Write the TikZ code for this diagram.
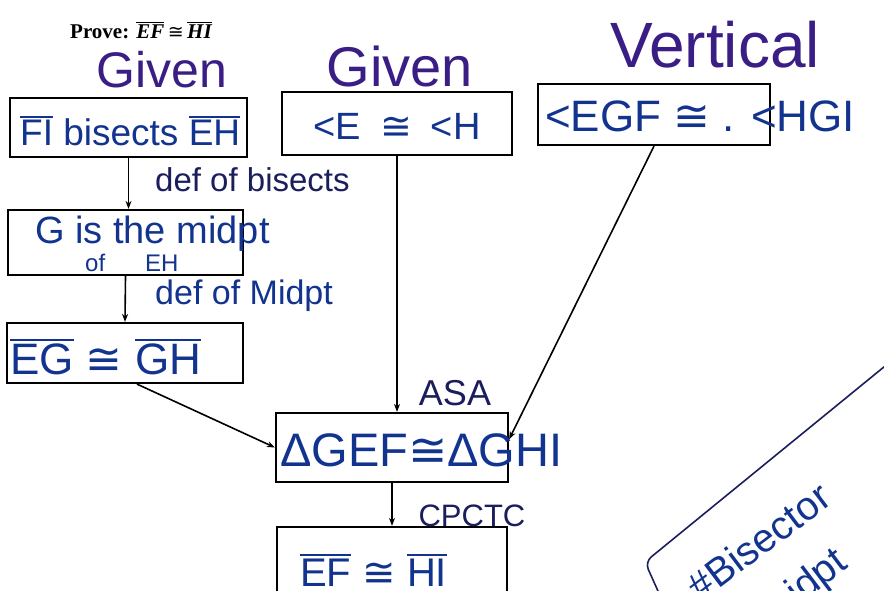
\documentclass[tikz,border=0pt]{standalone}
\usepackage{fontspec}
\setmainfont{Liberation Sans}
\newfontfamily\printfont{Liberation Serif}
\newfontfamily\symfont{DejaVu Sans}
\usetikzlibrary{arrows.meta,calc}

\definecolor{inkblue}{HTML}{12348F}
\definecolor{inkpurple}{HTML}{3A1E86}
\definecolor{inknavy}{HTML}{1B1E5C}

\newcommand{\fs}[1]{\fontsize{#1}{#1}\selectfont}
% segment bar drawn as a rule above the letters
\newcommand{\seg}[1]{\leavevmode\vbox{\hrule height 2.2pt\kern 2.5pt\hbox{#1}}}
\newcommand{\thinseg}[1]{\leavevmode\vbox{\hrule height 1.1pt\kern 1.5pt\hbox{#1}}}
\newcommand{\cg}{{\symfont ≅}}

\tikzset{
  box/.style={draw=black, line width=2.2pt, inner sep=0pt},
  ink/.style={text=inkblue, inner sep=0pt},
  reason/.style={text=inknavy, inner sep=0pt},
  given/.style={text=inkpurple, inner sep=0pt, font=\fs{50}},
  arr/.style={draw=black, line width=1.6pt, -{Stealth[length=8pt,width=6pt]}},
}

\begin{document}
\begin{tikzpicture}[x=1pt,y=-1pt]
\useasboundingbox (0,0) rectangle (884,591);
\fill[white] (0,0) rectangle (884,591);
\clip (0,0) rectangle (884,591);

% statement to prove
\node[anchor=west, inner sep=0pt, font=\printfont\bfseries\fs{21}] (prove) at (70,30)
  {Prove: \thinseg{\itshape EF}\,{\normalfont\symfont\fs{19}≅}\,\thinseg{\itshape HI}};

% boxes
\node[box, minimum width=237pt, minimum height=59pt] (b1) at (128.5,127.5) {};
\node[box, minimum width=230pt, minimum height=63pt] (b2) at (397,123.5) {};
\node[box, minimum width=232pt, minimum height=61pt] (b3) at (654,114.5) {};
\node[box, minimum width=235pt, minimum height=65pt] (b4) at (125.5,242.5) {};
\node[box, minimum width=236pt, minimum height=60pt] (b5) at (125,353) {};
\node[box, minimum width=232pt, minimum height=69pt] (b6) at (392,447.5) {};
\node[box, minimum width=230pt, minimum height=72pt] (b7) at (392,563) {};

% statements
\node[ink, anchor=west, font=\fs{37}] (t1) at (20,131) {\seg{FI} bisects \seg{EH}};
\node[ink, font=\fs{38}] (t2) at (397,126) {<E\enspace\cg\enspace<H};
\node[ink, anchor=west, font=\fs{44}] (t3) at (545,116) {<EGF \cg\ . <HGI};
\node[ink, anchor=west, font=\fs{38}] (t4a) at (35,234) {G is the midpt};
\node[ink, anchor=west, font=\fs{24}] (t4b) at (85,263) {of\hspace{40pt}EH};
\node[ink, anchor=west, font=\fs{44}] (t5) at (10,357) {\seg{EG} \cg\ \seg{GH}};
\node[ink, anchor=west, font=\fs{47}] (t6) at (280,450) {ΔGEF\cg ΔGHI};
\node[ink, anchor=west, font=\fs{40}] (t7) at (300,570) {\seg{EF} \cg\ \seg{HI}};

% reasons
\node[given] (g1) at (162,70) {Given};
\node[given, font=\fs{56}] (g2) at (400,66) {Given};
\node[given, font=\fs{64}] (g3) at (715,45) {Vertical};
\node[reason, anchor=west, font=\fs{33}] (r1) at (155,180) {def of bisects};
\node[reason, text=inkblue, anchor=west, font=\fs{34}] (r2) at (155,296) {def of Midpt};
\node[reason, font=\fs{36}] (r3) at (455,393) {ASA};
\node[reason, font=\fs{31}] (r4) at (472,516) {CPCTC};

% connectors
\draw[arr] (b1.south) -- (b1.south |- b4.north);
\draw[arr] (b4.south) -- (b5.north);
\draw[arr] (b2.south) -- (b2.south |- b6.north);
\draw[arr] (b3.south) -- (b6.4);
\draw[arr] ([xshift=12pt]b5.south) -- (b6.west);
\draw[arr] (b6.south) -- (b6.south |- b7.north);

% side note in the lower right corner
\coordinate (n0) at (662,600);
\coordinate (n1) at (645,562);
\coordinate (n2) at (890,362);
\draw[inknavy, line width=1.6pt, rounded corners=8pt] (n0) -- (n1) -- (n2);
\node[ink, rotate=37, anchor=west, font=\fs{40}] (note1) at (692,592) {\#Bisector};
\node[ink, rotate=37, anchor=west, font=\fs{40}] (note2) at (765,618) {midpt};
\end{tikzpicture}
\end{document}
